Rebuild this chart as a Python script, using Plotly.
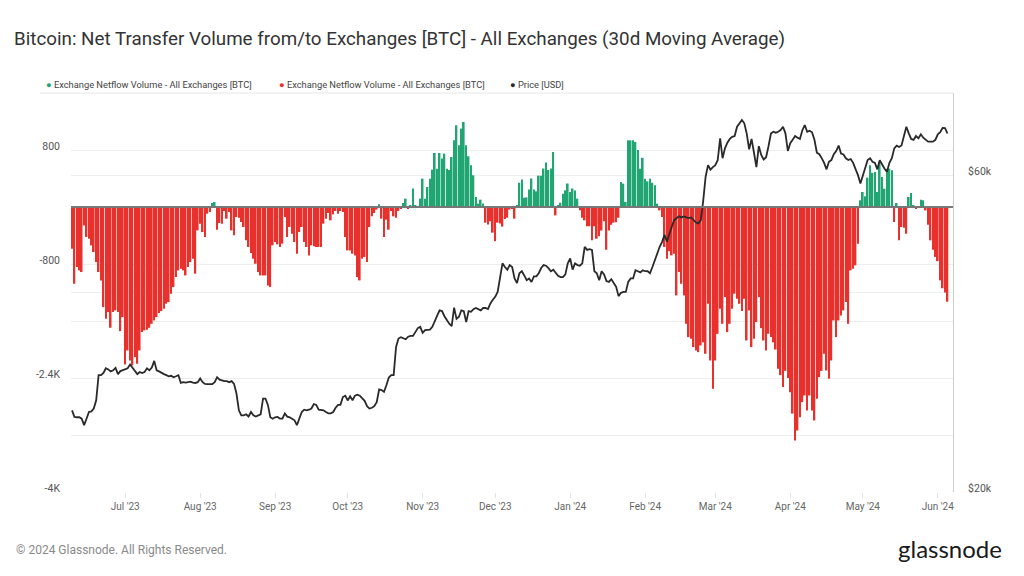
import math
import pandas as pd
import plotly.graph_objects as go

START_DATE = "2023-06-09"

# 30d MA exchange netflow [BTC], one value per day from START_DATE
netflow = [
    -585, -1077, -843, -890, -913, -258, -421, -445, -538, -632,
    -773, -913, -1030, -1405, -1568, -1475, -1695, -1475, -1451, -1475,
    -1742, -1545, -2210, -2013, -2154, -2224, -2107, -2200, -2013, -1756,
    -1732, -1723, -1695, -1639, -1592, -1545, -1489, -1461, -1428, -1358,
    -1334, -1217, -1124, -983, -890, -866, -890, -960, -843, -773,
    -726, -936, -328, -234, -351, -421, -94, -70, 56, 70,
    -318, -225, -234, -56, -164, -70, -328, -398, -140, -150,
    -211, -281, -468, -562, -646, -726, -796, -913, -960, -960,
    -960, -1100, -1124, -538, -492, -524, -562, -515, -140, -421,
    -281, -375, -492, -655, -351, -281, -492, -562, -679, -538,
    -552, -562, -562, -562, -234, -164, -84, -187, -103, -56,
    -94, -56, -70, -421, -609, -609, -655, -679, -983, -1030,
    -726, -702, -773, -281, -131, -84, -37, 37, -164, -421,
    -178, -318, -56, -131, -150, -56, -23, 56, 117, -19,
    23, 258, 23, -9, 117, 398, 117, 281, 398, 524,
    758, 538, 758, 679, 749, 538, 520, 702, 936, 1147,
    866, 1100, 1194, 866, 712, 585, 445, 140, 47, 103,
    50, -220, -245, -200, -360, -480, -220, -230, -275, -170,
    -150, -35, -15, -164, 15, 340, 385, 130, 135, 245,
    400, 245, 220, 440, 440, 540, 625, 520, 540, 772,
    -117, 20, 60, 187, 234, 330, 210, 260, 230, 117,
    -47, -150, -187, -270, -270, -468, -270, -445, -410, -330,
    -200, -600, -330, -250, -220, -215, -150, 351, 328, 70,
    936, 936, 936, 913, 800, 538, 690, 398, 360, 398,
    340, 304, 47, -47, -140, -562, -726, -620, -679, -655,
    -1241, -913, -1077, -1241, -1639, -1826, -1850, -1966, -2013, -2037,
    -1943, -1900, -2060, -1358, -2154, -2552, -2154, -1780, -1428, -1639,
    -1264, -1756, -1639, -1428, -1217, -1287, -1358, -1460, -1287, -1873,
    -1451, -1966, -1850, -1615, -1264, -1700, -1873, -2013, -1779, -1826,
    -1900, -2000, -2270, -2360, -2528, -2300, -2400, -2600, -2900, -3277,
    -3137, -2950, -2739, -2645, -2856, -2645, -2856, -2996, -2692, -2388,
    -2300, -2060, -2294, -2411, -2154, -1592, -1826, -1592, -1522, -1451,
    -1334, -1639, -890, -866, -819, -515, 94, 211, 150, 412,
    585, 480, 491, 211, 632, 421, 257, 538, 538, 515,
    -211, 56, -468, -281, -290, -375, 140, 197, 15, -25,
    -10, 103, 94, -47, -250, -468, -600, -700, -760, -1030,
    -1140, -1200, -1330,
]

# BTC price [USD], one value per day from START_DATE
price = [
    26560, 25960, 25930, 25930, 25800, 25230, 25800, 26410, 26470, 26730,
    27510, 30010, 30010, 30240, 30740, 30620, 30410, 30520, 30790, 30120,
    30440, 30520, 30590, 30740, 31140, 30820, 30410, 30120, 30350, 30240,
    30350, 30740, 30520, 30820, 31540, 30520, 30410, 30240, 30120, 30010,
    29900, 29950, 29800, 29900, 30010, 29210, 29290, 29250, 29290, 29350,
    29250, 29210, 29290, 29670, 29290, 29120, 29090, 29090, 29090, 29290,
    29800, 29550, 29450, 29400, 29400, 29290, 29400, 29120, 28160, 26560,
    26100, 26100, 26200, 26000, 26410, 26100, 26000, 26100, 26200, 27670,
    27670, 27070, 25930, 25800, 25930, 25960, 25800, 25800, 26280, 25990,
    25930, 25800, 25660, 25230, 25800, 26410, 26620, 26560, 26620, 26730,
    27140, 27070, 26620, 26560, 26560, 26410, 26280, 26280, 26410, 26800,
    27070, 27070, 27820, 27950, 27490, 27890, 27510, 27950, 28050, 27950,
    27670, 27450, 26950, 26730, 26800, 26950, 27330, 28560, 28500, 28320,
    28980, 29770, 30010, 30010, 33100, 34090, 34240, 34090, 34000, 34300,
    34400, 34400, 34890, 35350, 35500, 34770, 35090, 35150, 35150, 35500,
    36100, 36900, 37600, 37500, 36840, 36340, 35900, 35600, 37960, 36500,
    36760, 37600, 37500, 36110, 37500, 37400, 37750, 37900, 37750, 37600,
    37900, 37900, 37750, 38500, 39000, 39400, 40090, 42000, 44260, 43700,
    43300, 44000, 43700, 42000, 41330, 42770, 43070, 42440, 41750, 42000,
    41500, 42300, 42300, 42770, 43550, 44000, 43900, 43530, 43070, 43300,
    42900, 42400, 42200, 42200, 42600, 44260, 45020, 43300, 44260, 44000,
    43900, 44260, 46880, 46380, 46500, 46380, 43070, 42770, 41750, 43070,
    42600, 41620, 41500, 41900, 41330, 40800, 39500, 39960, 40090, 40090,
    41500, 42000, 42000, 43220, 43070, 42900, 43220, 43070, 43070, 42770,
    43700, 44760, 45900, 46880, 47700, 48870, 47700, 49100, 50270, 51440,
    51800, 52110, 51920, 52110, 51920, 51800, 51920, 51440, 51000, 50860,
    51440, 55000, 59800, 62270, 61300, 61850, 62270, 63340, 68340, 63770,
    66000, 67300, 68200, 68700, 68900, 71150, 72000, 72820, 72000, 69480,
    65800, 68200, 65000, 61850, 66500, 64500, 63500, 64000, 66500, 69500,
    69930, 69700, 69930, 70330, 71150, 69540, 65400, 67200, 68000, 68900,
    68500, 68200, 70300, 71570, 69930, 70170, 69800, 67990, 65020, 64680,
    63800, 62760, 61360, 63000, 63370, 64680, 65400, 66650, 64840, 64600,
    63770, 63370, 63600, 62760, 61400, 60140, 58420, 60140, 61500, 63370,
    63770, 63000, 62760, 61360, 63340, 62270, 61500, 60830, 62760, 63770,
    66000, 66650, 66300, 66650, 69000, 71150, 69540, 68200, 67990, 68900,
    68340, 69300, 68500, 67990, 67550, 67550, 67550, 67990, 69300, 69800,
    70850, 70800, 69500,
]

left_tickvals = [-4000, -2400, -800, 800]
left_ticktext = ["-4K", "-2.4K", "-800", "800"]
right_tickvals = [20000, 40000, 60000]
right_ticktext = ["$20k", "", "$60k"]

TITLE = "Bitcoin: Net Transfer Volume from/to Exchanges [BTC] - All Exchanges (30d Moving Average)"
SERIES_NAMES = ["Exchange Netflow Volume - All Exchanges [BTC]",
                "Exchange Netflow Volume - All Exchanges [BTC]",
                "Price [USD]"]

GREEN = "#21a673"
RED = "#e8302c"
BLACK = "#2a2a2a"
GRID = "#eeeeee"
FONT = "Roboto"

flow_dates = pd.date_range(START_DATE, periods=len(netflow), freq="D")
price_dates = pd.date_range(START_DATE, periods=len(price), freq="D")
pos = [v if v > 0 else None for v in netflow]
neg = [v if v < 0 else None for v in netflow]

fig = go.Figure()
fig.add_trace(go.Bar(x=flow_dates, y=pos, marker=dict(color=GREEN, line=dict(width=0)),
                     name=SERIES_NAMES[0], showlegend=False))
fig.add_trace(go.Bar(x=flow_dates, y=neg, marker=dict(color=RED, line=dict(width=0)),
                     name=SERIES_NAMES[1], showlegend=False))
fig.add_trace(go.Scatter(x=price_dates, y=price, mode="lines", yaxis="y2",
                         line=dict(color=BLACK, width=1.8), name=SERIES_NAMES[2],
                         showlegend=False))

# plot-area geometry (pixels)
L, R, T, B = 71, 953, 93, 492
W, H = R - L, B - T


def px(x):
    return (x - L) / W


def py(y):
    return (B - y) / H


start = pd.Timestamp(START_DATE)
x_range = [start - pd.Timedelta(hours=10), start + pd.Timedelta(days=364, hours=7)]

fig.update_layout(
    width=1024, height=576, autosize=False,
    margin=dict(l=L, r=1024 - R, t=T, b=576 - B),
    paper_bgcolor="white", plot_bgcolor="white",
    font=dict(family=FONT, color="#555"),
    barmode="overlay", bargap=0.32,
    showlegend=False,
    title=dict(text=TITLE, x=14 / 1024, xref="container", xanchor="left",
               y=1 - 38 / 576, yref="container", yanchor="middle",
               font=dict(family=FONT, size=18.8, color="#333")),
    xaxis=dict(type="date", range=x_range, tickformat="%b '%y", dtick="M1",
               tick0="2023-07-01", ticks="outside", ticklen=5, tickcolor="#e2e2e2",
               showgrid=False, zeroline=False, showline=False,
               tickfont=dict(size=10, color="#666")),
    yaxis=dict(range=[-4000, 1600], tickmode="array", tickvals=left_tickvals,
               ticktext=left_ticktext, showgrid=True, gridcolor=GRID, zeroline=False,
               ticks="", ticklabelstandoff=10, ticklabelshift=-4,
               minor=dict(tickmode="linear", tick0=0, dtick=800, showgrid=True,
                          gridcolor=GRID, ticks=""),
               tickfont=dict(size=10.5, color="#555")),
    yaxis2=dict(overlaying="y", side="right", type="log",
                range=[math.log10(20000), math.log10(80000)],
                tickmode="array", tickvals=right_tickvals, ticktext=right_ticktext,
                showgrid=True, gridcolor=GRID, zeroline=False,
                showline=True, linecolor="#cfcfcf", linewidth=1,
                ticks="", ticklabelstandoff=12, ticklabelshift=-4,
                tickfont=dict(size=10.5, color="#555")),
)

# zero line and top border
fig.add_shape(type="line", xref="paper", yref="y", x0=0, x1=1, y0=0, y1=0,
              line=dict(color="#777777", width=2), layer="above")
fig.add_shape(type="line", xref="paper", yref="paper", x0=px(40), x1=1, y0=1, y1=1,
              line=dict(color="#e6e6e6", width=1), layer="below")

# legend drawn as text items with coloured dots
legend_items = [(44, GREEN, SERIES_NAMES[0]), (277, RED, SERIES_NAMES[1]), (508, BLACK, SERIES_NAMES[2])]
for x0, col, name in legend_items:
    fig.add_annotation(xref="paper", yref="paper", x=px(x0), y=py(84),
                       xanchor="left", yanchor="middle", showarrow=False,
                       text=f"<span style='color:{col}'>●</span> {name}",
                       font=dict(family=FONT, size=9.3, color="#444"))

fig.add_annotation(xref="paper", yref="paper", x=px(14), y=py(550), xanchor="left",
                   yanchor="middle", showarrow=False,
                   text="© 2024 Glassnode. All Rights Reserved.",
                   font=dict(family=FONT, size=12, color="#8a8a8a"))
fig.add_annotation(xref="paper", yref="paper", x=px(1004), y=py(548), xanchor="right",
                   yanchor="middle", showarrow=False, text="glassnode",
                   font=dict(family="Lato", size=24, color="#1a1a1a"))

fig.write_html("out.html", config={"displayModeBar": False},
               post_script="document.body.style.margin='0';")
